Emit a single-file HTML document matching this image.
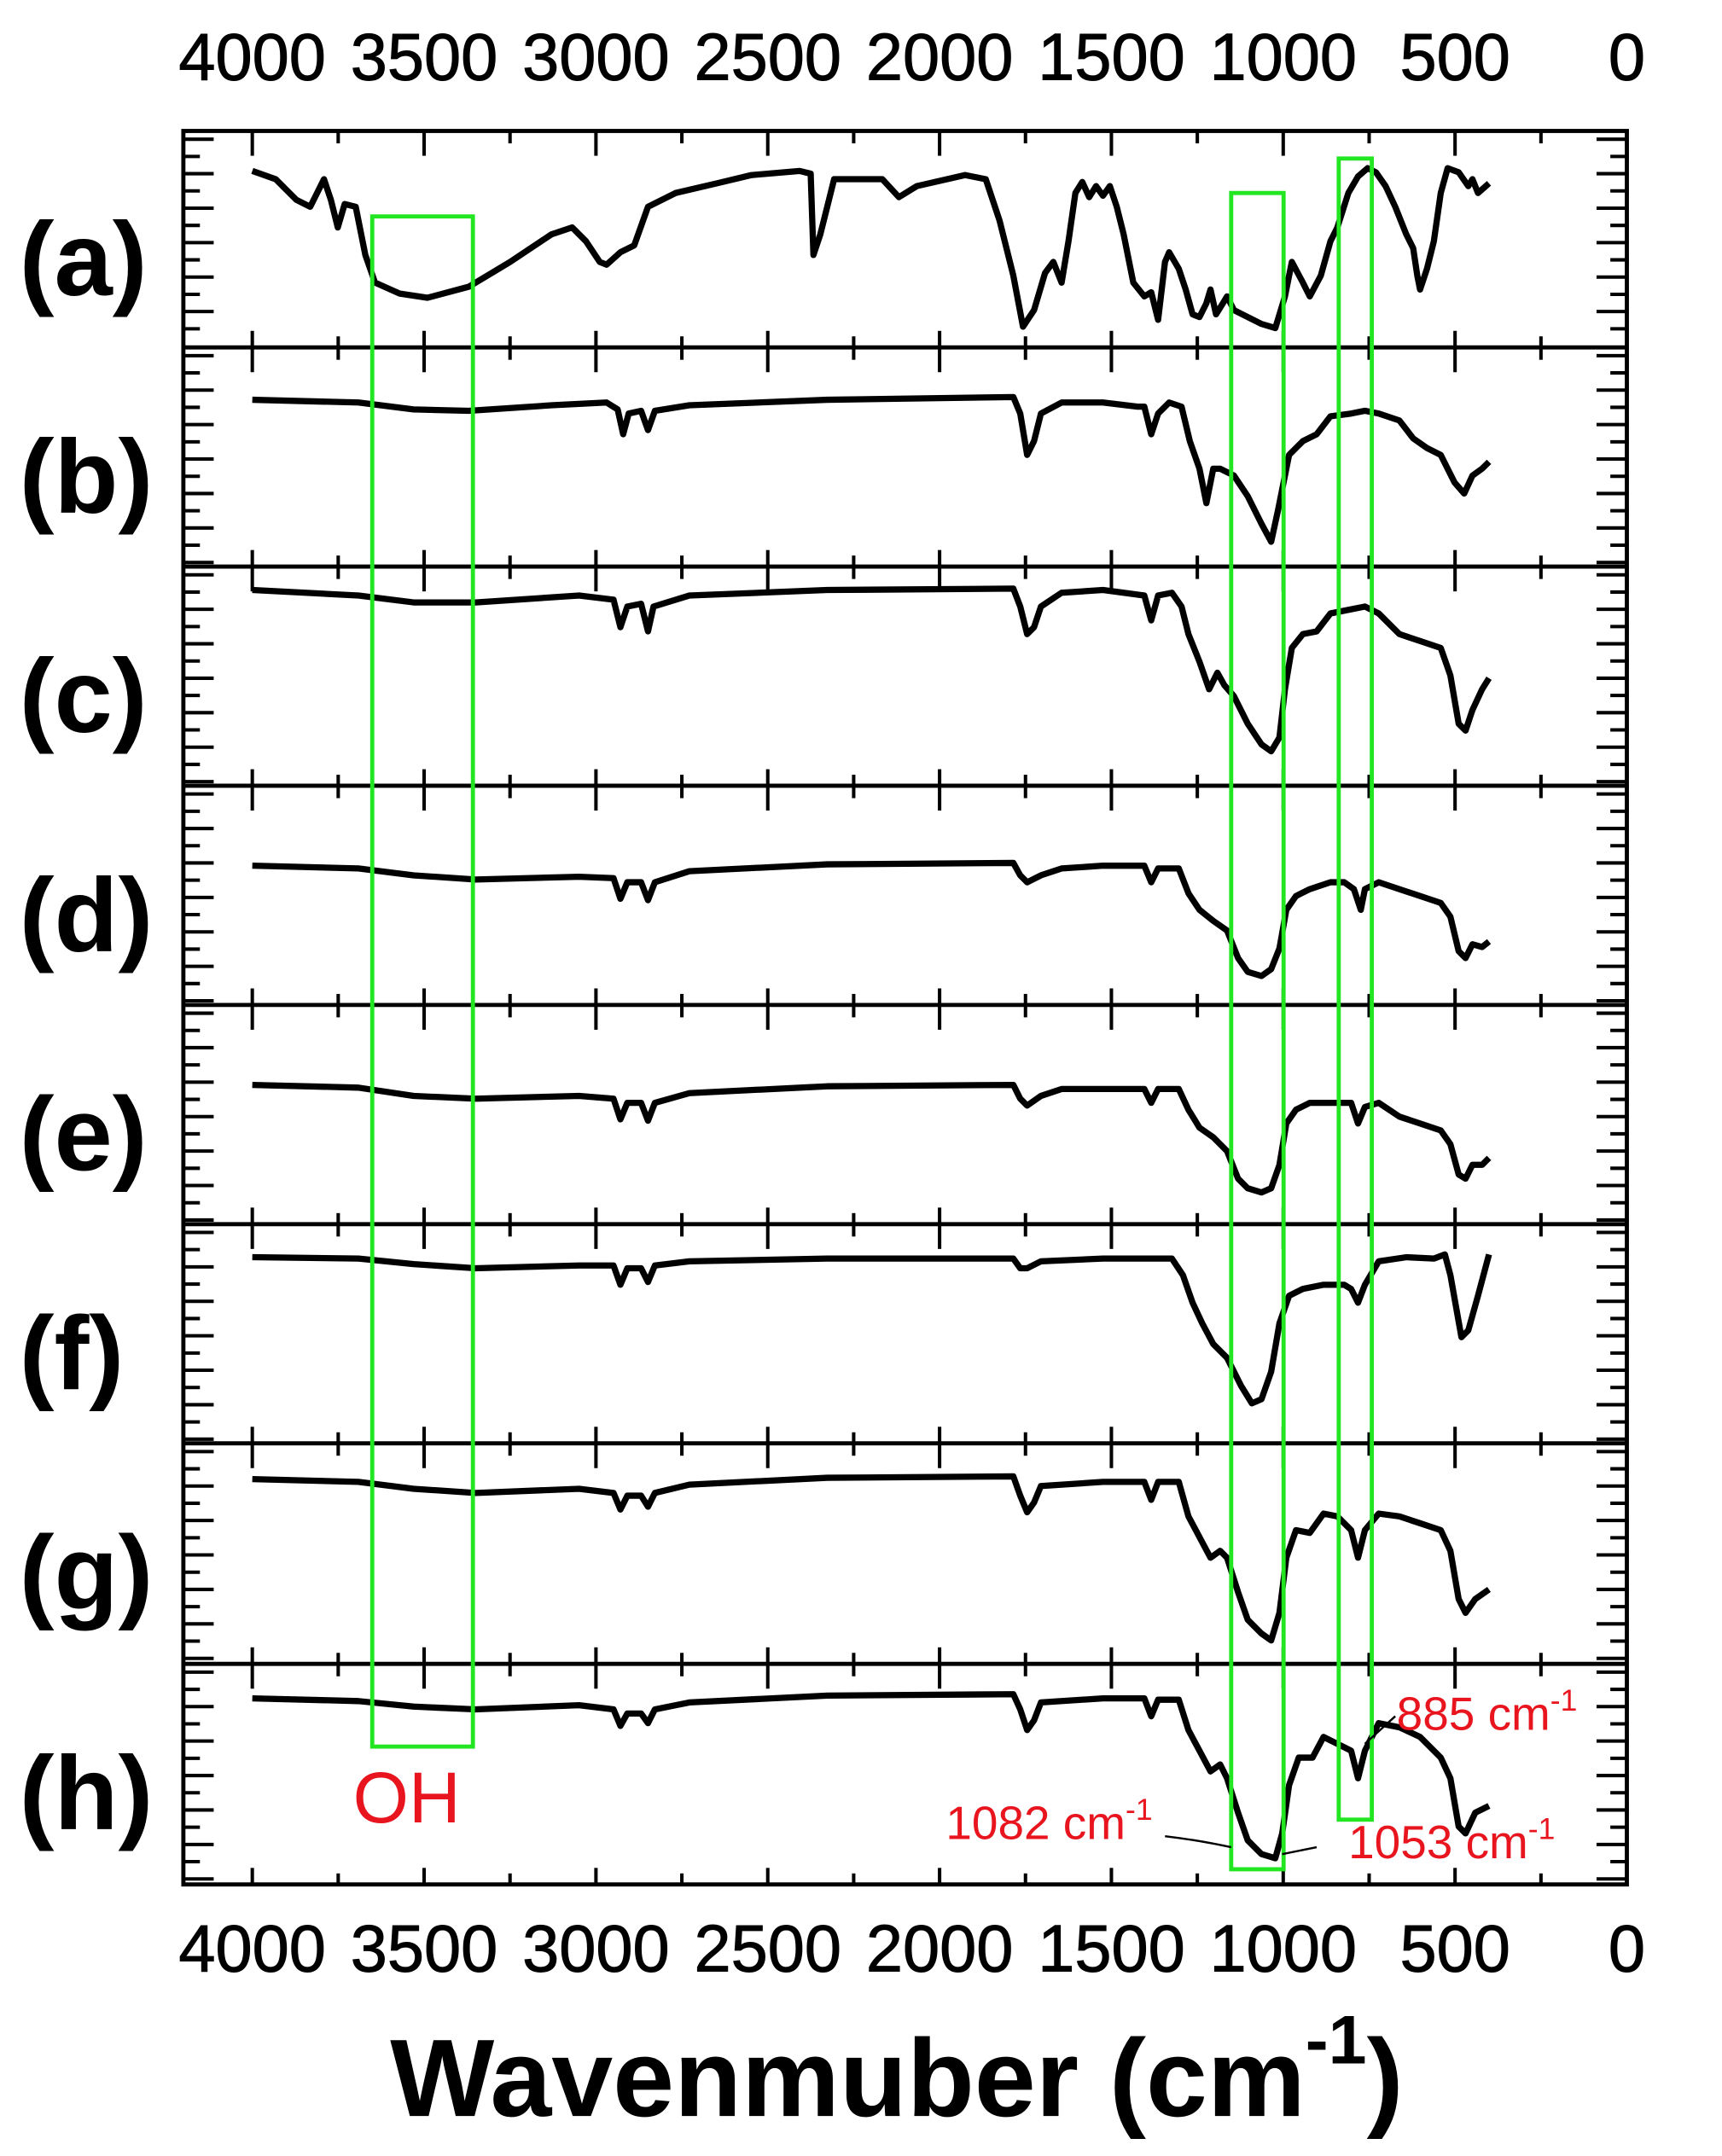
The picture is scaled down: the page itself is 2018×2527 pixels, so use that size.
<!DOCTYPE html>
<html><head><meta charset="utf-8"><style>
html,body{margin:0;padding:0;background:#fff}
svg{display:block}
</style></head><body>
<svg id="s" xmlns="http://www.w3.org/2000/svg" width="2018" height="2527" viewBox="0 0 1249 1564" preserveAspectRatio="none">
<rect width="1249" height="1564" fill="#fff"/>
<g id="ticks" stroke="#000" stroke-width="2.5"></g>
<g id="curves" fill="none" stroke="#000" stroke-width="4.5" stroke-linejoin="round"></g>
<g fill="none" stroke="#000" stroke-width="3">
<rect x="133" y="95" width="1047" height="1272"/>
<line x1="133" y1="252" x2="1180" y2="252"/><line x1="133" y1="411" x2="1180" y2="411"/>
<line x1="133" y1="570" x2="1180" y2="570"/><line x1="133" y1="729" x2="1180" y2="729"/>
<line x1="133" y1="888" x2="1180" y2="888"/><line x1="133" y1="1047" x2="1180" y2="1047"/>
<line x1="133" y1="1207" x2="1180" y2="1207"/>
</g>
<g fill="none" stroke="#22e622" stroke-width="3">
<rect x="270" y="157" width="73" height="1110"/>
<rect x="893" y="140" width="38" height="1216"/>
<rect x="971" y="115" width="24" height="1205"/>
</g>
<g id="lab" font-family="Liberation Sans, sans-serif" font-size="48" text-anchor="middle" fill="#000" stroke="#000" stroke-width="0.6"></g>
<g font-family="Liberation Sans, sans-serif" font-size="76" font-weight="bold" fill="#000">
<text x="14" y="214">(a)</text><text x="14" y="372">(b)</text><text x="14" y="531">(c)</text>
<text x="14" y="690">(d)</text><text x="14" y="849">(e)</text><text x="14" y="1008">(f)</text>
<text x="14" y="1167">(g)</text><text x="14" y="1327">(h)</text>
</g>
<text x="283" y="1535" font-family="Liberation Sans, sans-serif" font-size="80" font-weight="bold">Wavenmuber (cm<tspan font-size="50" dy="-38">-1</tspan><tspan dy="38">)</tspan></text>
<g font-family="Liberation Sans, sans-serif" fill="#e8141e">
<text x="256" y="1322" font-size="52">OH</text>
<text x="1013" y="1255" font-size="34">885 cm<tspan font-size="22" dy="-14">-1</tspan></text>
<text x="686" y="1334" font-size="34">1082 cm<tspan font-size="22" dy="-14">-1</tspan></text>
<text x="978" y="1348" font-size="34">1053 cm<tspan font-size="22" dy="-14">-1</tspan></text>
</g>
<g stroke="#000" stroke-width="1.5" fill="none">
<path d="M845 1332 Q870 1335 893 1340"/><path d="M955 1340 L930 1345"/><path d="M1012 1245 L990 1265"/>
</g>
</svg>
<script>
var NS="http://www.w3.org/2000/svg";
function el(p,t,a){var e=document.createElementNS(NS,t);for(var k in a)e.setAttribute(k,a[k]);document.getElementById(p).appendChild(e);return e;}
function X(w){return 183+(4000-w)*0.24925;}
var tops=[95,252,411,570,729,888,1047,1207,1367];
for(var i=0;i<8;i++){var t=tops[i],b=tops[i+1];
 for(var w=4000;w>=0;w-=250){var x=X(w),maj=(w%500==0);
  el("ticks","line",{x1:x,y1:t,x2:x,y2:t+(maj?18:9)});
  el("ticks","line",{x1:x,y1:b,x2:x,y2:b-(maj?12:8)});}
 for(var y=t+6,k=0;y<b-2;y+=12.5,k++){var L=(k%2==0)?22:12;
  el("ticks","line",{x1:133,y1:y,x2:133+L,y2:y});
  el("ticks","line",{x1:1180,y1:y,x2:1180-L,y2:y});}
}
for(var w=4000;w>=0;w-=500){var tx=el("lab","text",{x:X(w),y:58});tx.textContent=w;var tb=el("lab","text",{x:X(w),y:1430});tb.textContent=w;}
var C=[
"183,124 200,130 215,145 225,150 235,130 240,145 245,165 250,148 258,150 265,185 272,205 290,213 310,216 340,208 370,190 400,170 415,165 425,175 435,190 440,192 450,183 460,178 470,150 490,140 520,133 545,127 580,124 588,126 590,185 595,170 600,150 605,130 640,130 652,143 665,135 700,127 715,130 725,160 735,200 742,237 750,225 758,198 764,190 770,205 775,175 780,140 785,132 790,143 795,135 800,142 805,135 810,150 815,170 822,205 830,215 835,212 840,232 845,190 848,183 855,195 860,210 865,228 870,230 875,220 878,210 882,228 887,220 890,215 895,225 905,230 915,235 925,238 932,215 937,190 945,205 950,215 958,200 965,175 970,165 978,140 985,128 992,122 998,125 1005,135 1012,150 1020,170 1025,180 1028,200 1030,210 1035,195 1040,175 1045,140 1050,122 1058,125 1065,135 1068,130 1072,140 1080,133",
"183,290 260,292 300,297 340,298 400,294 440,292 448,297 452,315 456,300 465,298 470,312 475,298 500,294 600,290 735,288 740,300 745,330 750,320 755,300 770,292 800,292 825,295 830,295 835,315 840,300 848,292 857,295 863,320 870,340 875,365 880,340 885,340 895,345 905,360 915,380 922,393 927,370 935,330 945,320 955,315 965,302 980,300 990,298 1000,300 1015,305 1025,318 1035,325 1045,330 1055,350 1062,358 1068,345 1075,340 1080,335",
"183,428 260,432 300,437 345,437 420,432 445,435 450,455 455,440 465,438 470,458 474,440 500,432 600,428 735,427 740,440 745,460 750,455 755,440 770,430 800,428 830,432 835,450 840,432 850,430 857,440 862,460 870,480 877,500 883,488 888,497 895,505 905,525 915,540 922,545 928,535 932,500 937,470 945,460 955,458 965,445 990,440 1000,445 1015,460 1030,465 1045,470 1052,490 1058,525 1063,530 1068,515 1075,500 1080,492",
"183,628 260,630 300,635 345,638 420,636 445,637 450,652 455,640 465,640 470,653 475,640 500,632 600,627 735,626 740,635 745,640 755,635 770,630 800,628 830,628 835,640 840,630 855,630 862,648 870,660 880,668 890,675 898,695 905,705 915,708 922,703 928,688 933,660 940,650 950,645 965,640 975,640 982,645 987,660 990,645 1000,640 1015,645 1030,650 1045,655 1052,665 1058,690 1063,695 1068,685 1075,687 1080,683",
"183,787 260,789 300,795 345,797 420,795 445,797 450,812 455,800 465,800 470,813 475,800 500,793 600,788 735,787 740,797 745,802 755,795 770,790 800,790 830,790 835,800 840,790 855,790 862,805 870,818 880,825 890,835 898,855 905,862 915,865 922,862 928,845 933,815 940,805 950,800 965,800 980,800 985,815 990,803 1000,800 1015,810 1030,815 1045,820 1052,830 1058,852 1063,855 1068,845 1075,845 1080,840",
"183,912 260,913 300,917 345,920 420,918 445,918 450,932 455,920 465,920 470,930 475,918 500,915 600,913 735,913 740,920 745,920 755,915 800,913 850,913 858,925 865,945 872,960 880,975 890,985 900,1005 908,1018 915,1015 922,995 928,960 935,940 945,935 960,932 975,932 980,935 985,945 990,932 1000,915 1020,912 1040,913 1048,910 1052,925 1060,970 1065,965 1072,940 1080,910",
"183,1073 260,1075 300,1080 345,1083 420,1080 445,1083 450,1095 455,1085 465,1085 470,1093 475,1083 500,1077 600,1072 735,1071 740,1085 745,1097 750,1090 755,1078 800,1075 830,1075 835,1088 840,1075 855,1075 862,1100 870,1115 878,1130 885,1125 890,1130 898,1155 905,1175 915,1185 922,1190 928,1170 933,1130 940,1110 950,1112 960,1098 970,1100 980,1110 985,1130 990,1110 1000,1098 1015,1100 1030,1105 1045,1110 1052,1125 1058,1160 1063,1170 1070,1160 1080,1153",
"183,1232 260,1234 300,1238 345,1240 420,1237 445,1240 450,1252 455,1243 465,1243 470,1250 475,1240 500,1235 600,1230 735,1229 740,1240 745,1255 750,1248 755,1235 800,1232 830,1232 835,1245 840,1233 855,1233 862,1255 870,1270 878,1285 885,1280 890,1290 898,1315 905,1335 915,1345 925,1348 930,1330 935,1295 942,1275 952,1275 960,1260 970,1265 980,1270 985,1290 990,1270 1000,1250 1015,1253 1030,1260 1045,1275 1052,1290 1058,1325 1063,1330 1070,1315 1080,1310"];
C.forEach(function(p){el("curves","polyline",{points:p});});
</script>
</body></html>
